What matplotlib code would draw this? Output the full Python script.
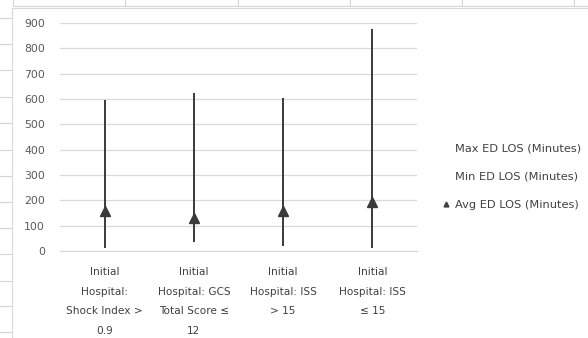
import matplotlib
matplotlib.use("Agg")
import matplotlib.pyplot as plt
from matplotlib.lines import Line2D

# values (minutes)
categories = [
    "Initial\nHospital:\nShock Index >\n0.9",
    "Initial\nHospital: GCS\nTotal Score ≤\n12",
    "Initial\nHospital: ISS\n> 15",
    "Initial\nHospital: ISS\n≤ 15",
]
max_los = [597, 625, 605, 875]
min_los = [13, 37, 20, 13]
avg_los = [158, 132, 157, 192]
yticks = [0, 100, 200, 300, 400, 500, 600, 700, 800, 900]

W, H = 588, 338
plt.rcParams['font.family'] = ['DejaVu Sans']

fig = plt.figure(figsize=(W / 100, H / 100), dpi=100)
fig.patch.set_facecolor("white")

# spreadsheet cell lines behind the chart
cell = "#d4d4d4"
def fline(x0, y0, x1, y1, c=cell, lw=0.8):
    fig.add_artist(Line2D([x0 / W, x1 / W], [1 - y0 / H, 1 - y1 / H],
                          color=c, lw=lw, transform=fig.transFigure))

fline(13, 6, W, 6)
for x in [13, 125.5, 237.5, 349.5, 461.5, 573.5]:
    fline(x, 0, x, 6)
for y in [18, 44, 70, 97, 123, 150, 176, 202, 228, 254, 281, 306, 332]:
    fline(0, y, 11, y)
# chart area border
fline(11.5, 7.5, 11.5, H, c="#d9d9d9")
fline(11.5, 7.5, W, 7.5, c="#d9d9d9")

ax = fig.add_axes([60 / W, 1 - 251 / H, 357 / W, 228 / H])
x = list(range(len(categories)))

ax.vlines(x, min_los, max_los, color="#3a3a3a", lw=1.4, zorder=3)
ax.plot(x, avg_los, linestyle="none", marker="^", ms=7,
        color="#3a3a3a", zorder=4)

ax.set_xlim(-0.5, len(categories) - 0.5)
ax.set_ylim(0, 900)
ax.set_yticks(yticks)
ax.set_xticks(x)
ax.set_xticklabels(categories, fontsize=7.6, color="#404040",
                   linespacing=2.2)
ax.tick_params(axis="y", length=0, pad=10.8, labelsize=7.8, labelcolor="#595959")
ax.tick_params(axis="x", length=0, pad=11.5)
ax.grid(axis="y", color="#d9d9d9", lw=0.9)
ax.set_axisbelow(True)
for s in ["top", "right", "left"]:
    ax.spines[s].set_visible(False)
ax.spines["bottom"].set_color("#d9d9d9")
ax.spines["bottom"].set_linewidth(0.9)

handles = [
    Line2D([], [], linestyle="none", marker="none"),
    Line2D([], [], linestyle="none", marker="none"),
    Line2D([], [], linestyle="none", marker="^", ms=3.5, color="#404040"),
]
labels = ["Max ED LOS (Minutes)", "Min ED LOS (Minutes)", "Avg ED LOS (Minutes)"]
leg = fig.legend(handles, labels, loc="center left",
                 bbox_to_anchor=(432 / W, 1 - 176.5 / H), frameon=False,
                 fontsize=8.2, labelspacing=1.62, handlelength=0.6,
                 handletextpad=0.5, labelcolor="#404040")

fig.savefig("out.png", dpi=100, facecolor="white")
